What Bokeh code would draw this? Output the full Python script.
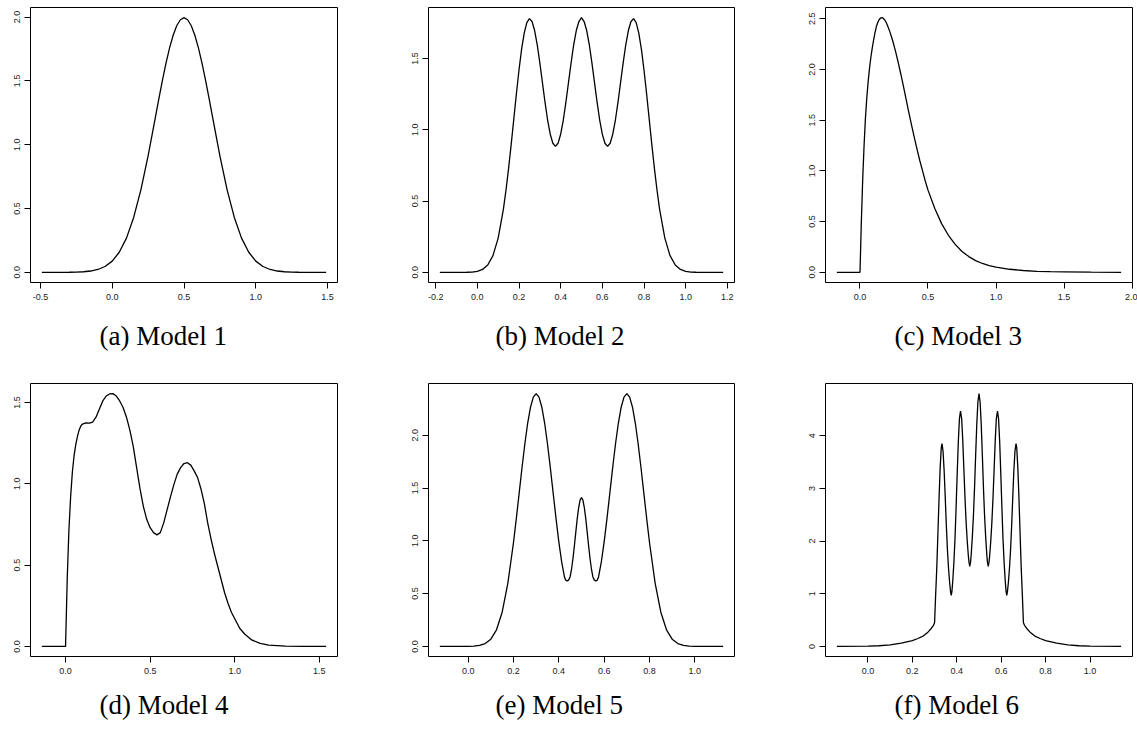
from bokeh.plotting import figure
from bokeh.layouts import column, row
from bokeh.models import Range1d, FixedTicker, Title
from bokeh.embed import file_html
from bokeh.resources import INLINE

# ---------------- data ----------------
captions = ["(a) Model 1", "(b) Model 2", "(c) Model 3",
            "(d) Model 4", "(e) Model 5", "(f) Model 6"]

m1_x = [-0.49, -0.4, -0.3, -0.25, -0.2, -0.15, -0.1, -0.05,
        0, 0.05, 0.1, 0.15, 0.2, 0.25, 0.3,
        0.325, 0.35, 0.375, 0.4, 0.425, 0.45, 0.475, 0.5, 0.525, 0.55, 0.575, 0.6, 0.625, 0.65, 0.675, 0.7,
        0.75, 0.8, 0.85, 0.9, 0.95, 1.0, 1.05, 1.1, 1.15, 1.2, 1.25, 1.3, 1.4, 1.49]
m1_y = [0, 0.0001, 0.0007, 0.0018, 0.0044, 0.0102, 0.0222, 0.0455,
        0.0876, 0.159, 0.270, 0.432, 0.648, 0.913, 1.210,
        1.360, 1.506, 1.641, 1.760, 1.859, 1.934, 1.979, 1.995, 1.979, 1.934, 1.859, 1.760, 1.641, 1.506, 1.360, 1.210,
        0.913, 0.648, 0.432, 0.270, 0.159, 0.0876, 0.0455, 0.0222, 0.0102, 0.0044, 0.0018, 0.0007, 0.0001, 0]

m2_x = [-0.18, -0.1, -0.05, -0.025, 0, 0.025, 0.05, 0.075, 0.1, 0.125,
        0.1375, 0.15, 0.1625, 0.175, 0.1875, 0.2, 0.2125, 0.225, 0.2375, 0.25,
        0.2625, 0.275, 0.2875, 0.3, 0.3125, 0.325, 0.3375, 0.35, 0.3625, 0.375,
        0.3875, 0.4, 0.4125, 0.425, 0.4375, 0.45, 0.4625, 0.475, 0.4875, 0.5,
        0.5125, 0.525, 0.5375, 0.55, 0.5625, 0.575, 0.5875, 0.6, 0.6125, 0.625,
        0.6375, 0.65, 0.6625, 0.675, 0.6875, 0.7, 0.7125, 0.725, 0.7375, 0.75,
        0.7625, 0.775, 0.7875, 0.8, 0.8125, 0.825, 0.8375, 0.85, 0.8625,
        0.875, 0.9, 0.925, 0.95, 0.975, 1.0, 1.025, 1.05, 1.1, 1.18]
m2_y = [0, 0, 0.0006, 0.002, 0.007, 0.02, 0.051, 0.117, 0.24, 0.442,
        0.576, 0.729, 0.898, 1.075, 1.253, 1.42, 1.566, 1.679, 1.752, 1.78,
        1.76, 1.697, 1.597, 1.47, 1.331, 1.192, 1.067, 0.969, 0.906, 0.884,
        0.906, 0.969, 1.067, 1.192, 1.331, 1.47, 1.597, 1.697, 1.76, 1.787,
        1.76, 1.697, 1.597, 1.47, 1.331, 1.192, 1.067, 0.969, 0.906, 0.884,
        0.906, 0.969, 1.067, 1.192, 1.331, 1.47, 1.597, 1.697, 1.76, 1.78,
        1.752, 1.679, 1.566, 1.42, 1.253, 1.075, 0.898, 0.729, 0.576,
        0.442, 0.24, 0.117, 0.051, 0.02, 0.007, 0.002, 0.0006, 0, 0]

m3_x = [-0.17, 0,
        0.01, 0.02, 0.03, 0.04, 0.05, 0.06, 0.07, 0.08, 0.09, 0.1,
        0.11, 0.12, 0.13, 0.14, 0.15, 0.16, 0.17, 0.18, 0.19, 0.2,
        0.22, 0.24, 0.26, 0.28, 0.3, 0.32, 0.34, 0.36, 0.38, 0.4, 0.42, 0.44, 0.46, 0.48, 0.5,
        0.55, 0.6, 0.65, 0.7, 0.75, 0.8, 0.85, 0.9, 0.95, 1.0,
        1.1, 1.2, 1.3, 1.4, 1.5, 1.7, 1.92]
m3_y = [0, 0,
        0.5, 0.92, 1.25, 1.52, 1.72, 1.88, 2.01, 2.12, 2.21, 2.29,
        2.36, 2.42, 2.46, 2.49, 2.505, 2.51, 2.505, 2.49, 2.47, 2.44,
        2.37, 2.285, 2.185, 2.075, 1.955, 1.83, 1.70, 1.57, 1.445, 1.325, 1.21, 1.10, 1.0, 0.90, 0.81,
        0.63, 0.48, 0.365, 0.275, 0.205, 0.155, 0.115, 0.087, 0.067, 0.052,
        0.03, 0.018, 0.01, 0.006, 0.004, 0.001, 0]

m4_x = [-0.14, 0,
        0.01, 0.02, 0.03, 0.04, 0.05, 0.06, 0.07, 0.08, 0.09, 0.1,
        0.12, 0.14, 0.16, 0.18, 0.2, 0.22, 0.24, 0.26, 0.28, 0.3,
        0.32, 0.34, 0.36, 0.38, 0.4, 0.42, 0.44, 0.46, 0.48, 0.5,
        0.52, 0.54, 0.56, 0.58, 0.6, 0.62, 0.64, 0.66, 0.68, 0.7,
        0.72, 0.74, 0.76, 0.78, 0.8, 0.82, 0.84, 0.86, 0.88, 0.9,
        0.92, 0.94, 0.96, 0.98, 1.0,
        1.03, 1.06, 1.1, 1.15, 1.2, 1.3, 1.4, 1.54]
m4_y = [0, 0,
        0.42, 0.72, 0.92, 1.07, 1.17, 1.24, 1.29, 1.33, 1.355, 1.368,
        1.375, 1.373, 1.38, 1.41, 1.46, 1.51, 1.54, 1.553, 1.555, 1.54,
        1.51, 1.47, 1.41, 1.33, 1.23, 1.10, 0.97, 0.86, 0.78, 0.73,
        0.70, 0.686, 0.70, 0.76, 0.84, 0.92, 0.995, 1.06, 1.10, 1.125,
        1.13, 1.115, 1.08, 1.04, 0.97, 0.88, 0.76, 0.66, 0.57, 0.49,
        0.41, 0.33, 0.265, 0.21, 0.17,
        0.11, 0.075, 0.04, 0.018, 0.008, 0.002, 0.0005, 0]

m5_x = [-0.125, 0, 0.025, 0.05, 0.075, 0.1, 0.125, 0.15, 0.175, 0.2,
        0.2125, 0.225, 0.2375, 0.25, 0.2625, 0.275, 0.2875, 0.3, 0.3125, 0.325,
        0.3375, 0.35, 0.3625, 0.375, 0.3875, 0.4, 0.4125, 0.425,
        0.43125, 0.4375, 0.44375, 0.45, 0.45625, 0.4625, 0.46875, 0.475, 0.48125, 0.4875, 0.49375, 0.5,
        0.50625, 0.5125, 0.51875, 0.525, 0.53125, 0.5375, 0.54375, 0.55, 0.55625, 0.5625, 0.56875,
        0.575, 0.5875, 0.6, 0.6125, 0.625, 0.6375, 0.65, 0.6625, 0.675, 0.6875, 0.7,
        0.7125, 0.725, 0.7375, 0.75, 0.7625, 0.775, 0.7875, 0.8,
        0.825, 0.85, 0.875, 0.9, 0.925, 0.95, 0.975, 1.0, 1.125]
m5_y = [0, 0.0008, 0.003, 0.0092, 0.0266, 0.0685, 0.157, 0.324, 0.597, 0.984,
        1.212, 1.452, 1.692, 1.917, 2.113, 2.265, 2.361, 2.394, 2.361, 2.265,
        2.113, 1.917, 1.692, 1.452, 1.213, 0.99, 0.80, 0.656,
        0.625, 0.62, 0.63, 0.66, 0.735, 0.835, 0.955, 1.085, 1.21, 1.315, 1.385, 1.41,
        1.385, 1.315, 1.21, 1.085, 0.955, 0.835, 0.735, 0.66, 0.63, 0.62, 0.625,
        0.656, 0.80, 0.99, 1.213, 1.452, 1.692, 1.917, 2.113, 2.265, 2.361, 2.394,
        2.361, 2.265, 2.113, 1.917, 1.692, 1.452, 1.212, 0.984,
        0.597, 0.324, 0.157, 0.0685, 0.0266, 0.0092, 0.003, 0.0008, 0]

m6_x = [-0.14, 0, 0.05, 0.1, 0.15, 0.2, 0.225, 0.25, 0.27, 0.285,
        0.295, 0.3, 0.305, 0.31, 0.315, 0.32, 0.325, 0.33, 0.3333, 0.338,
        0.343, 0.348, 0.353, 0.358, 0.363, 0.368, 0.372, 0.375, 0.378, 0.382,
        0.387, 0.392, 0.397, 0.402, 0.407, 0.412, 0.4167, 0.422, 0.427, 0.432,
        0.437, 0.442, 0.447, 0.452, 0.455, 0.4583, 0.462, 0.465, 0.47, 0.475,
        0.48, 0.485, 0.49, 0.495, 0.5,
        0.505, 0.51, 0.515, 0.52, 0.525, 0.53, 0.535, 0.538, 0.5417, 0.545,
        0.548, 0.553, 0.558, 0.563, 0.568, 0.573, 0.578, 0.5833, 0.588, 0.593,
        0.598, 0.603, 0.608, 0.613, 0.618, 0.622, 0.625, 0.628, 0.632, 0.637,
        0.642, 0.647, 0.652, 0.657, 0.662, 0.6667, 0.67, 0.675, 0.68, 0.685,
        0.69, 0.695, 0.7, 0.705, 0.715, 0.73, 0.75, 0.775, 0.8, 0.85,
        0.9, 0.95, 1.0, 1.14]
m6_y = [0, 0.005, 0.012, 0.03, 0.06, 0.11, 0.15, 0.2, 0.27, 0.34,
        0.40, 0.45, 1.0, 1.5, 2.15, 2.8, 3.38, 3.77, 3.85, 3.71,
        3.34, 2.83, 2.29, 1.82, 1.47, 1.2, 1.04, 0.97, 1.04, 1.25,
        1.6, 2.05, 2.65, 3.3, 3.9, 4.33, 4.47, 4.32, 3.9, 3.35,
        2.82, 2.36, 2.0, 1.72, 1.6, 1.52, 1.6, 1.75, 2.08, 2.49,
        3.02, 3.64, 4.22, 4.64, 4.80,
        4.64, 4.22, 3.64, 3.02, 2.49, 2.08, 1.75, 1.6, 1.52, 1.6,
        1.72, 2.0, 2.36, 2.82, 3.35, 3.9, 4.32, 4.47, 4.33, 3.9,
        3.3, 2.65, 2.05, 1.6, 1.25, 1.04, 0.97, 1.04, 1.2, 1.47,
        1.82, 2.29, 2.83, 3.34, 3.71, 3.85, 3.77, 3.38, 2.8, 2.15,
        1.5, 1.0, 0.45, 0.40, 0.34, 0.27, 0.2, 0.15, 0.11, 0.06,
        0.03, 0.012, 0.005, 0]

# tick values and their labels
x_ticks = [[-0.5, 0.0, 0.5, 1.0, 1.5],
           [-0.2, 0.0, 0.2, 0.4, 0.6, 0.8, 1.0, 1.2],
           [0.0, 0.5, 1.0, 1.5, 2.0],
           [0.0, 0.5, 1.0, 1.5],
           [0.0, 0.2, 0.4, 0.6, 0.8, 1.0],
           [0.0, 0.2, 0.4, 0.6, 0.8, 1.0]]
x_labels = [["-0.5", "0.0", "0.5", "1.0", "1.5"],
            ["-0.2", "0.0", "0.2", "0.4", "0.6", "0.8", "1.0", "1.2"],
            ["0.0", "0.5", "1.0", "1.5", "2.0"],
            ["0.0", "0.5", "1.0", "1.5"],
            ["0.0", "0.2", "0.4", "0.6", "0.8", "1.0"],
            ["0.0", "0.2", "0.4", "0.6", "0.8", "1.0"]]
y_ticks = [[0.0, 0.5, 1.0, 1.5, 2.0],
           [0.0, 0.5, 1.0, 1.5],
           [0.0, 0.5, 1.0, 1.5, 2.0, 2.5],
           [0.0, 0.5, 1.0, 1.5],
           [0.0, 0.5, 1.0, 1.5, 2.0],
           [0, 1, 2, 3, 4]]
y_labels = [["0.0", "0.5", "1.0", "1.5", "2.0"],
            ["0.0", "0.5", "1.0", "1.5"],
            ["0.0", "0.5", "1.0", "1.5", "2.0", "2.5"],
            ["0.0", "0.5", "1.0", "1.5"],
            ["0.0", "0.5", "1.0", "1.5", "2.0"],
            ["0", "1", "2", "3", "4"]]

series = [(m1_x, m1_y), (m2_x, m2_y), (m3_x, m3_y),
          (m4_x, m4_y), (m5_x, m5_y), (m6_x, m6_y)]

# ---------------- layout ----------------
col_w = [381, 381, 375]
col_left = [30, 47, 63]
col_right = [44, 28, 5]
row_h = [381, 349]
row_top = [7, 2]
row_bottom = [99, 72]
cap_offset = [69, 67, 69]
cap_standoff = [32, 22]

TICK_FONT = "Liberation Sans"
CAP_FONT = "Liberation Serif"


def make_panel(i):
    r, c = divmod(i, 3)
    xs, ys = series[i]
    xspan = max(xs) - min(xs)
    yspan = max(ys) - min(ys)
    p = figure(width=col_w[c], height=row_h[r],
               x_range=Range1d(min(xs) - 0.04 * xspan, max(xs) + 0.04 * xspan),
               y_range=Range1d(min(ys) - 0.04 * yspan, max(ys) + 0.04 * yspan),
               output_backend="svg", toolbar_location=None,
               min_border_left=col_left[c], min_border_right=col_right[c],
               min_border_top=row_top[r], min_border_bottom=row_bottom[r])
    p.line(xs, ys, line_color="black", line_width=1.3)
    p.grid.visible = False
    p.outline_line_color = "black"
    p.outline_line_width = 1
    p.background_fill_color = "white"
    p.border_fill_color = "white"

    for ax, ticks, labels in ((p.xaxis[0], x_ticks[i], x_labels[i]),
                              (p.yaxis[0], y_ticks[i], y_labels[i])):
        ax.ticker = FixedTicker(ticks=ticks)
        ax.major_label_overrides = {t: l for t, l in zip(ticks, labels)}
        ax.axis_line_color = None
        ax.major_tick_line_color = "black"
        ax.major_tick_in = 0
        ax.major_tick_out = 6
        ax.minor_tick_line_color = None
        ax.major_label_text_font = TICK_FONT
        ax.major_label_text_font_size = "9px"
        ax.major_label_text_color = "#222222"
    p.xaxis[0].major_label_standoff = 5
    p.yaxis[0].major_label_standoff = 4
    p.yaxis[0].major_label_orientation = "vertical"

    p.add_layout(Title(text=captions[i], align="left", offset=cap_offset[c],
                       text_font=CAP_FONT, text_font_size="27px",
                       text_font_style="normal", text_color="black",
                       standoff=cap_standoff[r]), "below")
    return p


panels = [make_panel(i) for i in range(6)]
layout = column(row(*panels[:3]), row(*panels[3:]))

open("out.html", "w").write(file_html(layout, INLINE))
